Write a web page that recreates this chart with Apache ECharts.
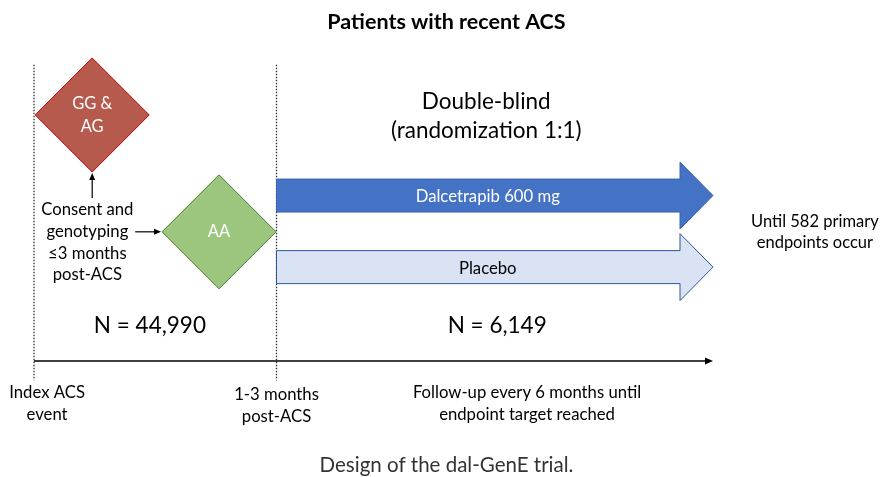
<!DOCTYPE html>
<html>
<head>
<meta charset="utf-8">
<script src="https://cdn.jsdelivr.net/npm/echarts@6/dist/echarts.min.js"></script>
<style>
  html, body { margin: 0; padding: 0; background: #fff; }
  #chart { width: 883px; height: 477px; }
</style>
</head>
<body>
<div id="chart"></div>
<script>
// time axis: 0 = index ACS event, 1 = randomization, 2.8 = end of follow-up
// lane axis: 0..100 from top to bottom
const milestoneTime = [0, 1];
const followUpEnd = 2.8;
const guideLanes = [13.6, 79.7];
const timelineLane = 75.7;

const genotypeLabels = ['GG &\nAG', 'AA'];
const genotypeTime = [0.24, 0.763];
const genotypeLane = [24.1, 48.6];

const armLabels = ['Dalcetrapib 600 mg', 'Placebo'];
const armLane = [41, 56];

const timelineLabels = ['Index ACS\nevent', '1-3 months\npost-ACS', 'Follow-up every 6 months until\nendpoint target reached'];
const timelineLabelTime = [0.054, 1.0, 2.033];
const timelineLabelLane = [84.6, 85.0, 84.6];

const enrolledLabels = ['N = 44,990', 'N = 6,149'];
const enrolledTime = [0.478, 1.91];
const enrolledLane = 68.3;

const consentLabel = 'Consent and\ngenotyping\n≤3 months\npost-ACS';
const consentTime = 0.22;
const consentLane = 50.8;

const designLabel = 'Double-blind\n(randomization 1:1)';
const designTime = 1.865;
const designLane = 24.4;

const endpointLabel = 'Until 582 primary\nendpoints occur';
const endpointTime = 3.22;
const endpointLane = 48.7;

const titleText = 'Patients with recent ACS';
const captionText = 'Design of the dal-GenE trial.';

const FONT = 'Lato, "Open Sans", sans-serif';

// text table for the label series
const texts = [];
function addText(t, l, text, size, lh, extra) {
  texts.push(Object.assign({ t: t, l: l, text: text, size: size, lh: lh }, extra || {}));
}
timelineLabels.forEach((s, i) => addText(timelineLabelTime[i], timelineLabelLane[i], s, 16.7, 21.5));
enrolledLabels.forEach((s, i) => addText(enrolledTime[i], enrolledLane, s, 22.5, 26));
addText(consentTime, consentLane, consentLabel, 16.7, 21.7);
addText(designTime, designLane, designLabel, 22.5, 29);
addText(endpointTime, endpointLane, endpointLabel, 16.5, 20.5);
addText(1.701, 4.6, titleText, 21.5, 24, { weight: 'bold' });
addText(1.701, 97.6, captionText, 20.5, 22, { color: '#333' });

const chart = echarts.init(document.getElementById('chart'));

function arrowHead(x, y, dir, len, half) {
  // dir: 'right' or 'up'
  if (dir === 'right') return [[x, y], [x - len, y - half], [x - len, y + half]];
  return [[x, y], [x - half, y + len], [x + half, y + len]];
}

const option = {
  animation: false,
  grid: { left: 34, right: 170, top: 0, bottom: 0 },
  xAxis: { type: 'value', min: 0, max: followUpEnd, show: false },
  yAxis: { type: 'value', min: 0, max: 100, inverse: true, show: false },
  series: [
    {
      // dotted milestone guides
      type: 'custom', clip: false, silent: true,
      data: milestoneTime.map(t => [t, guideLanes[0]]),
      renderItem: function (params, api) {
        const a = api.coord([api.value(0), guideLanes[0]]);
        const b = api.coord([api.value(0), guideLanes[1]]);
        return {
          type: 'line',
          shape: { x1: a[0], y1: a[1], x2: b[0], y2: b[1] },
          style: { stroke: '#333', lineWidth: 1.3, lineDash: [1.5, 1.5] }
        };
      }
    },
    {
      // timeline
      type: 'custom', clip: false, silent: true,
      data: [[milestoneTime[0], timelineLane]],
      renderItem: function (params, api) {
        const a = api.coord([milestoneTime[0], timelineLane]);
        const b = api.coord([followUpEnd, timelineLane]);
        return {
          type: 'group',
          children: [
            { type: 'line', shape: { x1: a[0], y1: a[1], x2: b[0] - 5, y2: b[1] }, style: { stroke: '#000', lineWidth: 1.5 } },
            { type: 'polygon', shape: { points: arrowHead(b[0], b[1], 'right', 8, 3.5) }, style: { fill: '#000' } }
          ]
        };
      }
    },
    {
      // genotype diamonds
      type: 'custom', clip: false, silent: true,
      data: genotypeTime.map((t, i) => [t, genotypeLane[i]]),
      renderItem: function (params, api) {
        const i = params.dataIndex;
        const c = api.coord([api.value(0), api.value(1)]);
        const h = 57;
        const fills = ['#b65a4e', '#9cc67e'];
        const strokes = ['#c00000', '#4f7a35'];
        return {
          type: 'group',
          children: [
            {
              type: 'polygon',
              shape: { points: [[c[0], c[1] - h], [c[0] + h, c[1]], [c[0], c[1] + h], [c[0] - h, c[1]]] },
              style: { fill: fills[i], stroke: strokes[i], lineWidth: 1 }
            },
            {
              type: 'text',
              style: {
                x: c[0], y: c[1], text: genotypeLabels[i], fill: '#fff',
                fontSize: 16.5, fontFamily: FONT, align: 'center', verticalAlign: 'middle', lineHeight: 23
              }
            }
          ]
        };
      }
    },
    {
      // consent arrows into diamonds
      type: 'custom', clip: false, silent: true,
      data: [[consentTime, consentLane]],
      renderItem: function (params, api) {
        const g = api.coord([genotypeTime[0], genotypeLane[0]]);
        const a = api.coord([genotypeTime[1], genotypeLane[1]]);
        const upTop = g[1] + 58, upBottom = g[1] + 83;
        const hx0 = g[0] + 43, hx1 = a[0] - 58;
        return {
          type: 'group',
          children: [
            { type: 'line', shape: { x1: g[0], y1: upBottom, x2: g[0], y2: upTop + 5 }, style: { stroke: '#000', lineWidth: 1.2 } },
            { type: 'polygon', shape: { points: arrowHead(g[0], upTop, 'up', 7, 3) }, style: { fill: '#000' } },
            { type: 'line', shape: { x1: hx0, y1: a[1], x2: hx1 - 5, y2: a[1] }, style: { stroke: '#000', lineWidth: 1.2 } },
            { type: 'polygon', shape: { points: arrowHead(hx1, a[1], 'right', 7, 3) }, style: { fill: '#000' } }
          ]
        };
      }
    },
    {
      // treatment arms (block arrows)
      type: 'custom', clip: false, silent: true,
      data: armLane.map(l => [milestoneTime[1], l]),
      renderItem: function (params, api) {
        const i = params.dataIndex;
        const p0 = api.coord([milestoneTime[1], api.value(1)]);
        const p1 = api.coord([followUpEnd, api.value(1)]);
        const x0 = p0[0], x1 = p1[0], y = p0[1];
        const bh = 16.5, hh = 33.5, hl = 33;
        const fills = ['#4472c4', '#dae3f3'];
        const strokes = ['#3a64b0', '#2f5597'];
        const inks = ['#fff', '#000'];
        return {
          type: 'group',
          children: [
            {
              type: 'polygon',
              shape: {
                points: [[x0, y - bh], [x1 - hl, y - bh], [x1 - hl, y - hh], [x1, y],
                         [x1 - hl, y + hh], [x1 - hl, y + bh], [x0, y + bh]]
              },
              style: { fill: fills[i], stroke: strokes[i], lineWidth: 1 }
            },
            {
              type: 'text',
              style: {
                x: (x0 + x1) / 2 - 7, y: y + 1, text: armLabels[i], fill: inks[i],
                fontSize: 16.7, fontFamily: FONT, align: 'center', verticalAlign: 'middle'
              }
            }
          ]
        };
      }
    },
    {
      // free text labels
      type: 'custom', clip: false, silent: true,
      data: texts.map(d => [d.t, d.l]),
      renderItem: function (params, api) {
        const d = texts[params.dataIndex];
        const c = api.coord([api.value(0), api.value(1)]);
        return {
          type: 'text',
          style: {
            x: c[0], y: c[1], text: d.text, fill: d.color || '#000',
            fontSize: d.size, fontWeight: d.weight || 'normal', fontFamily: FONT,
            align: 'center', verticalAlign: 'middle', lineHeight: d.lh
          }
        };
      }
    }
  ]
};

chart.setOption(option);
</script>
</body>
</html>
